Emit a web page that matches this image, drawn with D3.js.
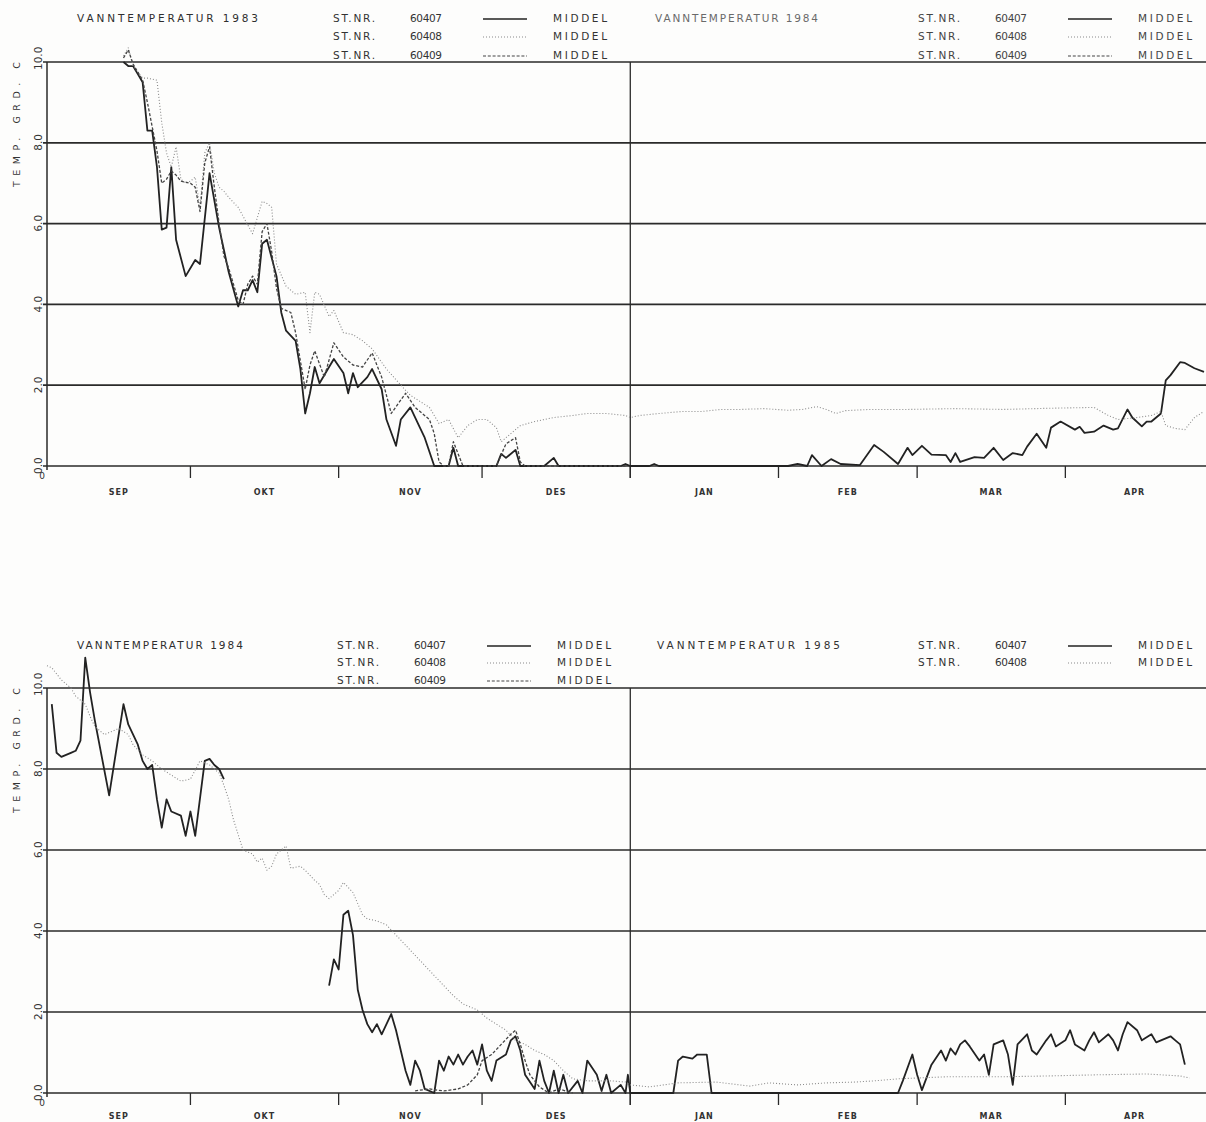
<!DOCTYPE html>
<html>
<head>
<meta charset="utf-8">
<script src="https://cdn.jsdelivr.net/npm/d3@7/dist/d3.min.js"></script>
<style>
  html, body { margin: 0; padding: 0; background: #fdfdfc; }
  svg { display: block; }
  text { font-family: "DejaVu Sans", sans-serif; fill: #333; }
</style>
</head>
<body>
<svg id="chart" width="1206" height="1122"></svg>
<script>
// Water temperature, daily means, season Sep 1 .. Apr 30 (day 0 = Sep 1)
const MONTH_START = [0, 30, 61, 91, 122, 153, 182, 213];
const MONTH_LABELS = ["SEP", "OKT", "NOV", "DES", "JAN", "FEB", "MAR", "APR"];
const SEASON_DAYS = 242;
const Y_TICKS = [0, 2, 4, 6, 8, 10];

const TITLES_TOP = ["VANNTEMPERATUR 1983", "VANNTEMPERATUR 1984"];
const TITLES_BOTTOM = ["VANNTEMPERATUR 1984", "VANNTEMPERATUR 1985"];
const STATIONS_TOP_LEFT = ["60407", "60408", "60409"];
const STATIONS_TOP_RIGHT = ["60407", "60408", "60409"];
const STATIONS_BOTTOM_LEFT = ["60407", "60408", "60409"];
const STATIONS_BOTTOM_RIGHT = ["60407", "60408"];

// Season 1983/84 — [day, °C]
const st60407_8384 = [[16,10.0],[17,9.9],[18,9.9],[19,9.7],[20,9.5],[21,8.3],[22,8.3],[23,7.4],[24,5.85],[25,5.9],[26,7.4],[27,5.6],[29,4.7],[31,5.1],[32,5.0],[34,7.25],[36,5.9],[38,4.8],[40,3.95],[41,4.35],[42,4.35],[43,4.6],[44,4.3],[45,5.5],[46,5.6],[48,4.7],[49,3.8],[50,3.35],[52,3.1],[53,2.4],[54,1.3],[55,1.8],[56,2.45],[57,2.05],[59,2.45],[60,2.65],[62,2.3],[63,1.8],[64,2.3],[65,1.95],[67,2.2],[68,2.4],[70,1.9],[71,1.15],[73,0.5],[74,1.15],[76,1.45],[78,0.95],[79,0.7],[81,0.0],[84,0.0],[85,0.45],[86,0.0],[94,0.0],[95,0.3],[96,0.2],[98,0.4],[99,0.0],[104,0.0],[106,0.2],[107,0.0],[120,0.0],[121,0.05],[122,0.0],[126,0.0],[127,0.05],[128,0.0],[155,0.0],[157,0.05],[159,0.0],[160,0.27],[162,0.0],[164,0.17],[166,0.05],[170,0.02],[173,0.52],[175,0.35],[178,0.05],[180,0.45],[181,0.27],[183,0.5],[185,0.28],[188,0.27],[189,0.1],[190,0.32],[191,0.1],[194,0.22],[196,0.2],[198,0.45],[200,0.15],[202,0.32],[204,0.27],[205,0.48],[207,0.8],[209,0.45],[210,0.95],[212,1.1],[215,0.9],[216,0.97],[217,0.82],[219,0.85],[221,1.0],[223,0.9],[224,0.93],[226,1.4],[227,1.2],[229,0.98],[230,1.1],[231,1.1],[233,1.3],[234,2.12],[235,2.25],[237,2.57],[238,2.55],[240,2.42],[242,2.33]];

const st60408_8384 = [[16,10.15],[17,10.35],[18,9.9],[19,9.75],[20,9.6],[21,9.6],[23,9.55],[24,8.5],[25,7.75],[26,7.4],[27,7.9],[28,7.1],[29,7.0],[30,7.05],[31,7.15],[32,6.4],[33,7.75],[34,8.0],[35,7.25],[36,6.9],[37,6.8],[38,6.65],[40,6.4],[43,5.75],[45,6.55],[46,6.5],[47,6.4],[48,5.0],[50,4.45],[52,4.25],[54,4.3],[55,3.3],[56,4.3],[57,4.25],[59,3.7],[60,3.85],[62,3.3],[64,3.25],[66,3.1],[68,2.9],[71,2.4],[74,2.0],[76,1.75],[78,1.6],[80,1.45],[82,1.05],[83,1.1],[84,1.15],[86,0.7],[88,1.0],[90,1.15],[92,1.15],[94,0.95],[95,0.6],[97,0.8],[99,1.0],[102,1.1],[106,1.2],[110,1.25],[113,1.3],[117,1.3],[121,1.25],[122,1.2],[124,1.25],[128,1.3],[133,1.35],[137,1.35],[141,1.4],[145,1.4],[150,1.42],[155,1.38],[158,1.4],[161,1.47],[163,1.4],[165,1.3],[167,1.37],[172,1.4],[180,1.4],[190,1.42],[200,1.4],[210,1.43],[219,1.45],[222,1.25],[224,1.15],[228,1.2],[231,1.25],[233,1.35],[234,1.0],[236,0.93],[238,0.9],[240,1.2],[242,1.35]];

const st60409_8384 = [[16,10.1],[17,10.3],[18,9.95],[19,9.75],[20,9.55],[21,9.0],[22,8.4],[23,7.8],[24,7.0],[25,7.1],[26,7.3],[27,7.2],[28,7.05],[30,7.0],[31,6.9],[32,6.3],[33,7.5],[34,7.9],[35,6.9],[36,6.0],[37,5.2],[38,4.9],[39,4.5],[40,4.1],[41,4.0],[42,4.5],[43,4.7],[44,4.5],[45,5.8],[46,6.0],[47,5.3],[48,4.4],[49,3.9],[51,3.8],[52,3.3],[53,2.6],[54,1.9],[55,2.5],[56,2.85],[58,2.2],[60,3.05],[62,2.7],[64,2.5],[66,2.45],[68,2.8],[70,2.2],[72,1.3],[75,1.8],[77,1.45],[80,1.15],[81,0.8],[82,0.1],[83,0.0],[84,0.0],[85,0.6],[87,0.0],[94,0.0],[96,0.55],[98,0.7],[99,0.1],[100,0.0],[121,0.0]];

// Season 1984/85 — [day, °C]; null marks a gap in the record
const st60407_8485 = [[1,9.6],[2,8.4],[3,8.3],[5,8.4],[6,8.45],[7,8.7],[8,10.75],[9,9.9],[10,9.2],[13,7.35],[16,9.6],[17,9.1],[19,8.6],[20,8.2],[21,8.0],[22,8.1],[23,7.25],[24,6.55],[25,7.25],[26,6.95],[28,6.85],[29,6.35],[30,6.95],[31,6.35],[33,8.2],[34,8.25],[35,8.1],[36,8.0],[37,7.75],[48,null],[59,2.65],[60,3.3],[61,3.05],[62,4.4],[63,4.5],[64,3.9],[65,2.55],[66,2.05],[67,1.7],[68,1.5],[69,1.7],[70,1.45],[72,1.95],[73,1.55],[74,1.05],[75,0.55],[76,0.2],[77,0.8],[78,0.55],[79,0.1],[81,0.0],[82,0.8],[83,0.55],[84,0.9],[85,0.7],[86,0.95],[87,0.7],[88,0.9],[89,1.05],[90,0.7],[91,1.2],[92,0.55],[93,0.3],[94,0.8],[96,0.95],[97,1.3],[98,1.4],[99,1.05],[100,0.45],[102,0.1],[103,0.8],[104,0.3],[105,0.0],[106,0.55],[107,0.0],[108,0.45],[109,0.0],[111,0.3],[112,0.0],[113,0.8],[115,0.45],[116,0.05],[117,0.45],[118,0.0],[120,0.2],[121,0.0],[121.5,0.45],[122,0.0],[131,0.0],[132,0.8],[133,0.9],[135,0.85],[136,0.95],[138,0.95],[139,0.0],[178,0.0],[179,0.3],[181,0.95],[182,0.45],[183,0.07],[185,0.7],[187,1.05],[188,0.8],[189,1.1],[190,0.95],[191,1.2],[192,1.3],[193,1.15],[195,0.8],[196,0.95],[197,0.45],[198,1.2],[200,1.3],[201,0.95],[202,0.2],[203,1.2],[205,1.45],[206,1.05],[207,0.95],[209,1.3],[210,1.45],[211,1.15],[213,1.3],[214,1.55],[215,1.2],[217,1.05],[218,1.3],[219,1.5],[220,1.25],[222,1.45],[223,1.3],[224,1.05],[225,1.45],[226,1.75],[228,1.55],[229,1.3],[231,1.45],[232,1.25],[233,1.3],[235,1.4],[236,1.3],[237,1.2],[238,0.7]];

const st60408_8485 = [[0,10.55],[1,10.5],[3,10.2],[5,10.0],[6,9.8],[8,9.6],[9,9.3],[10,9.05],[12,8.85],[14,8.95],[15,9.0],[17,8.85],[18,8.6],[20,8.35],[22,8.2],[24,8.0],[26,7.85],[28,7.7],[30,7.75],[32,8.2],[34,8.1],[36,7.9],[37,7.6],[38,7.25],[39,6.75],[41,6.0],[43,5.9],[44,5.7],[45,5.8],[46,5.5],[47,5.6],[48,5.9],[50,6.1],[51,5.55],[53,5.6],[54,5.5],[56,5.25],[57,5.15],[58,4.9],[59,4.8],[61,5.0],[62,5.2],[64,4.95],[66,4.4],[67,4.3],[69,4.25],[71,4.15],[73,3.9],[75,3.65],[77,3.4],[79,3.15],[81,2.9],[83,2.65],[85,2.4],[87,2.2],[90,2.05],[92,1.85],[94,1.7],[96,1.55],[98,1.3],[100,1.2],[102,1.05],[104,0.95],[106,0.8],[108,0.55],[110,0.35],[113,0.3],[118,0.3],[121,0.27],[122,0.2],[126,0.15],[132,0.25],[140,0.27],[147,0.17],[151,0.25],[157,0.2],[163,0.25],[169,0.27],[173,0.3],[178,0.35],[188,0.4],[199,0.4],[209,0.42],[220,0.45],[230,0.47],[237,0.42],[239,0.37]];

const st60409_8485 = [[77,0.05],[78,0.07],[80,0.1],[83,0.05],[86,0.1],[88,0.2],[90,0.45],[91,0.8],[93,0.95],[95,1.2],[97,1.45],[98,1.55],[99,1.2],[100,0.8],[101,0.45],[103,0.15],[105,0.0],[107,0.1],[110,0.0]];

// ---- drawing ----
const svg = d3.select("#chart");
const X_LEFT = 47, X_RIGHT = 1204, X_EDGE = 1206;
const x = d3.scaleLinear().domain([0, SEASON_DAYS]).range([X_LEFT, X_RIGHT]);

const STYLE = {
  solid:  { stroke: "#222", width: 1.8, dash: null },
  dotted: { stroke: "#8a8a8a", width: 1.1, dash: "1,2" },
  dashed: { stroke: "#444", width: 1.3, dash: "3,1.8" }
};
const STYLE_ORDER = ["solid", "dotted", "dashed"];

function drawPanel(p) {
  const y = d3.scaleLinear().domain([0, 10]).range([p.y0, p.y10]);
  const g = svg.append("g");

  // horizontal gridlines
  g.selectAll("line.grid").data(Y_TICKS).join("line")
    .attr("x1", X_LEFT - 4).attr("x2", X_EDGE)
    .attr("y1", d => y(d)).attr("y2", d => y(d))
    .attr("stroke", "#2a2a2a").attr("stroke-width", 1.7);

  // y axis
  g.append("line").attr("x1", X_LEFT).attr("x2", X_LEFT)
    .attr("y1", y(10)).attr("y2", y(0) + 4)
    .attr("stroke", "#2a2a2a").attr("stroke-width", 1.5);

  // y tick labels, rotated
  g.selectAll("text.ytick").data(Y_TICKS).join("text")
    .attr("transform", d => `translate(${X_LEFT - 5},${y(d) + 8}) rotate(-90)`)
    .attr("font-size", 10.5).attr("text-anchor", "start")
    .text(d => d.toFixed(1));

  g.append("text")
    .attr("transform", `translate(20,${y(10) + 125}) rotate(-90)`)
    .attr("font-size", 9.5).attr("textLength", 125).attr("lengthAdjust", "spacing")
    .text("TEMP. GRD. C");

  g.append("text").attr("x", X_LEFT - 5).attr("y", y(0) + 13)
    .attr("font-size", 9).attr("text-anchor", "middle").text("0");

  // month ticks and labels
  g.selectAll("line.mtick").data(MONTH_START.slice(1)).join("line")
    .attr("x1", d => x(d)).attr("x2", d => x(d))
    .attr("y1", y(0)).attr("y2", y(0) + 12)
    .attr("stroke", "#2a2a2a").attr("stroke-width", 1.3);

  const mids = MONTH_START.map((d, i) => (d + (MONTH_START[i + 1] ?? SEASON_DAYS)) / 2);
  g.selectAll("text.month").data(MONTH_LABELS).join("text")
    .attr("x", (d, i) => x(mids[i])).attr("y", y(0) + p.monthDy)
    .attr("font-size", 8).attr("font-weight", "bold").attr("text-anchor", "middle")
    .attr("letter-spacing", 1)
    .text(d => d);

  // year divider at Jan 1
  g.append("line").attr("x1", x(122)).attr("x2", x(122))
    .attr("y1", y(10)).attr("y2", y(0) + 12)
    .attr("stroke", "#2a2a2a").attr("stroke-width", 1.3);

  // series
  const line = d3.line()
    .defined(d => d[1] != null)
    .x(d => x(d[0])).y(d => y(d[1]));
  p.series.forEach((s, i) => {
    const st = STYLE[STYLE_ORDER[i]];
    g.append("path").datum(s)
      .attr("d", line).attr("fill", "none")
      .attr("stroke", st.stroke).attr("stroke-width", st.width)
      .attr("stroke-linejoin", "round")
      .attr("stroke-dasharray", st.dash);
  });

  // headers and legends
  p.headers.forEach(h => {
    g.append("text").attr("x", h.x).attr("y", p.rowY[0])
      .attr("font-size", 10.5).attr("textLength", h.titleLen).attr("lengthAdjust", "spacing")
      .style("fill", h.titleColor).text(h.title);
    h.stations.forEach((code, i) => {
      const ry = p.rowY[i];
      const st = STYLE[STYLE_ORDER[i]];
      g.append("text").attr("x", h.lx).attr("y", ry).attr("font-size", 10.5)
        .attr("textLength", 42).attr("lengthAdjust", "spacing").style("fill", h.color).text("ST.NR.");
      g.append("text").attr("x", h.lx + 77).attr("y", ry).attr("font-size", 10.5)
        .attr("textLength", 32).attr("lengthAdjust", "spacing").style("fill", h.color).text(code);
      g.append("line").attr("x1", h.lx + 150).attr("x2", h.lx + 194)
        .attr("y1", ry - 3).attr("y2", ry - 3)
        .attr("stroke", st.stroke).attr("stroke-width", i === 0 ? 1.3 : 1.1)
        .attr("stroke-dasharray", st.dash);
      g.append("text").attr("x", h.lx + 220).attr("y", ry).attr("font-size", 10.5)
        .attr("textLength", 54).attr("lengthAdjust", "spacing").style("fill", h.color).text("MIDDEL");
    });
  });
}

drawPanel({
  y0: 466, y10: 62,
  rowY: [22, 40, 59],
  monthDy: 29,
  series: [st60407_8384, st60408_8384, st60409_8384],
  headers: [
    { x: 77, title: TITLES_TOP[0], titleLen: 181, lx: 333, stations: STATIONS_TOP_LEFT, color: "#333", titleColor: "#2e2e2e" },
    { x: 655, title: TITLES_TOP[1], titleLen: 163, lx: 918, stations: STATIONS_TOP_RIGHT, color: "#444", titleColor: "#6a6a6a" }
  ]
});

drawPanel({
  y0: 1093, y10: 688,
  rowY: [649, 666, 684],
  monthDy: 26,
  series: [st60407_8485, st60408_8485, st60409_8485],
  headers: [
    { x: 77, title: TITLES_BOTTOM[0], titleLen: 166, lx: 337, stations: STATIONS_BOTTOM_LEFT, color: "#333", titleColor: "#2e2e2e" },
    { x: 657, title: TITLES_BOTTOM[1], titleLen: 183, lx: 918, stations: STATIONS_BOTTOM_RIGHT, color: "#333", titleColor: "#333" }
  ]
});
</script>
</body>
</html>
